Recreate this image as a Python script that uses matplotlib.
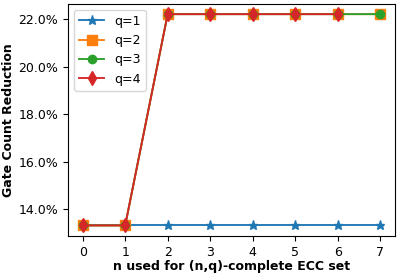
import matplotlib
matplotlib.use('Agg')
import matplotlib.pyplot as plt
from matplotlib.ticker import PercentFormatter

plt.rcParams['font.size'] = 9

n_values = [0, 1, 2, 3, 4, 5, 6, 7]
q1 = [13.33, 13.33, 13.33, 13.33, 13.33, 13.33, 13.33, 13.33]
q2 = [13.33, 13.33, 22.22, 22.22, 22.22, 22.22, 22.22, 22.22]
q3 = [13.33, 13.33, 22.22, 22.22, 22.22, 22.22, 22.22, 22.22]
q4 = [13.33, 13.33, 22.22, 22.22, 22.22, 22.22, 22.22]

fig, ax = plt.subplots(figsize=(3.99, 2.76), dpi=100)
ax.plot(n_values, q1, marker='*', markersize=6.5, linewidth=1.35, label='q=1')
ax.plot(n_values, q2, marker='s', markersize=6.5, linewidth=1.35, label='q=2')
ax.plot(n_values, q3, marker='o', markersize=6, linewidth=1.35, label='q=3')
ax.plot(n_values[:len(q4)], q4, marker='d', markersize=7.5, linewidth=1.35, label='q=4')
ax.yaxis.set_major_formatter(PercentFormatter(decimals=1))
ax.set_xlabel('n used for (n,q)-complete ECC set', fontweight='bold', labelpad=1)
ax.set_ylabel('Gate Count Reduction', fontweight='bold', labelpad=2)
ax.legend(loc='upper left')
plt.subplots_adjust(left=0.17, right=0.99, top=0.987, bottom=0.145)
plt.savefig('out.png')
